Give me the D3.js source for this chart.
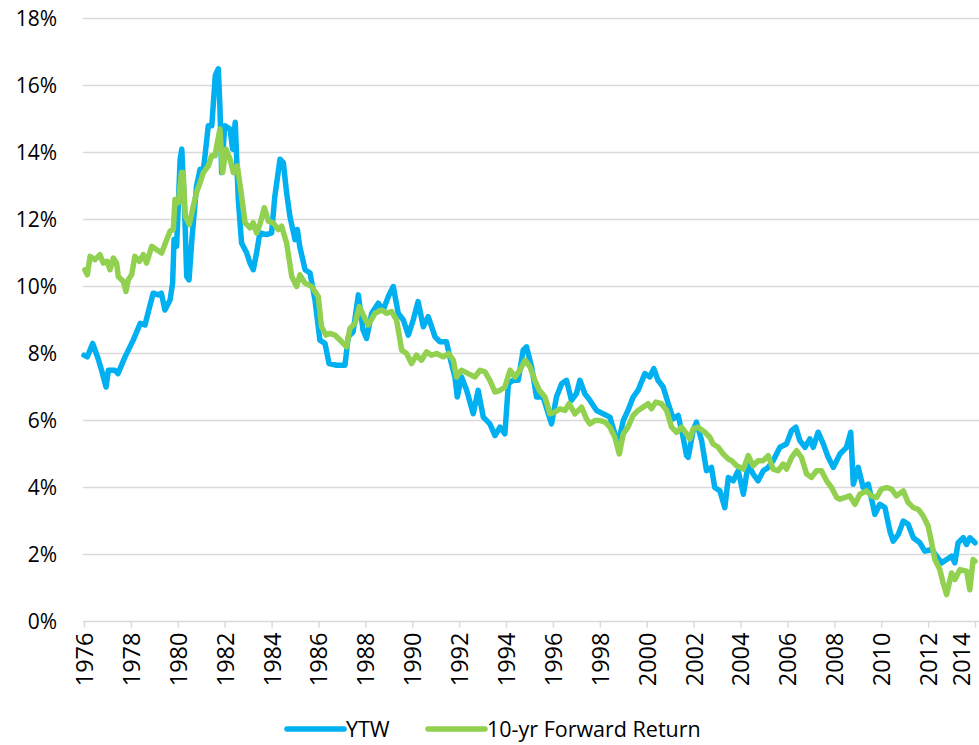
<!DOCTYPE html>
<html>
  <head>
    <meta charset="utf-8">
    <title>YTW vs 10-yr Forward Return</title>
    <style>
    body { margin: 0; background: #fff; }
    text { font-family: "Open Sans", sans-serif; fill: #000; }
    .grid line { stroke: #d9d9d9; stroke-width: 1.5; }
    .line { fill: none; stroke-width: 5.5; stroke-linejoin: round; stroke-linecap: round; }
    </style>
  </head>
  <body>
    <svg width="979" height="745"></svg>
    <script src="https://d3js.org/d3.v7.min.js"></script>
    <script>

      // decimal year, percent
      var ytwDates = [1976.0,1976.14,1976.37,1976.6,1976.75,1976.94,1977.04,1977.32,1977.45,1977.75,
        1978.1,1978.4,1978.6,1978.8,1978.95,1979.17,1979.3,1979.45,1979.67,1979.78,1979.84,1979.95,
        1980.1,1980.17,1980.3,1980.38,1980.48,1980.6,1980.8,1980.95,1981.09,1981.16,1981.3,1981.45,
        1981.6,1981.73,1981.8,1981.87,1982.0,1982.23,1982.34,1982.45,1982.58,1982.72,1982.94,1983.08,
        1983.22,1983.36,1983.5,1983.79,1984.0,1984.14,1984.36,1984.5,1984.64,1984.78,1985.0,1985.1,
        1985.2,1985.43,1985.64,1985.85,1986.06,1986.28,1986.45,1986.78,1987.13,1987.27,1987.48,1987.7,
        1987.9,1988.05,1988.27,1988.55,1988.76,1988.98,1989.19,1989.4,1989.62,1989.83,1990.04,1990.25,
        1990.47,1990.68,1990.97,1991.18,1991.46,1991.6,1991.82,1991.92,1992.1,1992.32,1992.6,1992.81,
        1993.03,1993.31,1993.53,1993.74,1993.95,1994.1,1994.3,1994.52,1994.73,1994.87,1995.09,1995.3,
        1995.58,1995.8,1995.94,1996.15,1996.37,1996.58,1996.79,1997.0,1997.15,1997.36,1997.58,1997.86,
        1998.14,1998.43,1998.64,1998.78,1999.0,1999.2,1999.42,1999.63,1999.92,2000.13,2000.3,2000.48,
        2000.7,2000.92,2001.13,2001.34,2001.55,2001.7,2001.77,2001.98,2002.12,2002.34,2002.55,2002.76,
        2002.9,2003.12,2003.33,2003.48,2003.69,2003.9,2004.12,2004.33,2004.54,2004.75,2004.97,2005.18,
        2005.39,2005.68,2005.96,2006.18,2006.36,2006.53,2006.75,2006.96,2007.1,2007.31,2007.53,2007.74,
        2007.96,2008.24,2008.52,2008.7,2008.81,2009.02,2009.23,2009.45,2009.73,2009.94,2010.16,2010.37,
        2010.51,2010.73,2010.94,2011.15,2011.37,2011.65,2011.86,2012.15,2012.36,2012.57,2012.79,2013.0,
        2013.14,2013.28,2013.5,2013.64,2013.78,2014.0];
      var ytwValues = [7.95,7.9,8.3,7.85,7.5,7.0,7.5,7.5,7.4,7.9,
        8.4,8.9,8.85,9.4,9.8,9.75,9.8,9.3,9.6,10.1,11.4,11.2,
        13.8,14.1,12.1,10.3,10.2,11.4,13.0,13.5,13.5,13.9,14.8,14.8,
        16.3,16.5,15.3,13.4,14.8,14.7,14.1,14.9,12.6,11.3,11.0,10.7,
        10.5,11.0,11.6,11.55,11.6,12.7,13.8,13.7,12.8,12.1,11.4,11.7,
        11.2,10.5,10.4,9.6,8.4,8.3,7.7,7.65,7.65,8.5,8.65,9.75,
        8.7,8.45,9.2,9.5,9.3,9.7,10.0,9.2,9.0,8.55,9.0,9.55,
        8.8,9.1,8.5,8.35,8.35,7.9,7.3,6.7,7.3,6.9,6.2,6.9,
        6.1,5.9,5.55,5.8,5.6,7.1,7.2,7.2,8.1,8.2,7.6,6.7,
        6.7,6.2,5.9,6.7,7.1,7.2,6.6,6.8,7.2,6.8,6.6,6.3,
        6.2,6.1,5.6,5.3,6.0,6.3,6.7,6.9,7.4,7.3,7.55,7.2,
        7.0,6.5,6.05,6.15,5.5,4.95,4.9,5.7,5.95,5.4,4.5,4.6,
        4.0,3.9,3.4,4.3,4.2,4.5,3.8,4.7,4.4,4.2,4.5,4.6,
        4.8,5.2,5.3,5.7,5.8,5.4,5.2,5.45,5.2,5.65,5.3,4.9,
        4.6,5.0,5.2,5.65,4.1,4.6,4.0,4.1,3.2,3.5,3.4,2.7,
        2.4,2.6,3.0,2.9,2.5,2.35,2.1,2.15,1.95,1.75,1.85,1.95,
        1.75,2.35,2.5,2.3,2.5,2.35];

      var fwdDates = [1976.04,1976.14,1976.26,1976.47,1976.68,1976.82,1976.99,1977.11,1977.25,1977.39,
        1977.46,1977.68,1977.79,1977.89,1978.03,1978.17,1978.36,1978.53,1978.67,1978.89,1979.1,1979.31,
        1979.53,1979.67,1979.81,1979.88,1980.02,1980.16,1980.23,1980.32,1980.49,1980.66,1980.8,1980.95,
        1981.09,1981.3,1981.44,1981.59,1981.66,1981.8,1981.91,1982.06,1982.23,1982.37,1982.54,1982.72,
        1982.87,1983.08,1983.22,1983.36,1983.5,1983.69,1983.86,1984.07,1984.29,1984.43,1984.64,1984.86,
        1985.07,1985.21,1985.42,1985.71,1985.99,1986.13,1986.32,1986.49,1986.7,1986.99,1987.2,1987.34,
        1987.56,1987.74,1987.91,1988.12,1988.41,1988.7,1988.9,1989.12,1989.33,1989.55,1989.76,1989.97,
        1990.18,1990.4,1990.61,1990.82,1991.04,1991.32,1991.54,1991.75,1991.89,1992.1,1992.39,1992.67,
        1992.89,1993.1,1993.31,1993.53,1993.74,1993.95,1994.17,1994.38,1994.59,1994.81,1995.02,1995.23,
        1995.42,1995.66,1995.87,1996.08,1996.3,1996.51,1996.69,1996.94,1997.22,1997.43,1997.58,1997.79,
        1998.0,1998.22,1998.43,1998.64,1998.83,1999.0,1999.2,1999.42,1999.63,1999.85,2000.06,2000.2,
        2000.39,2000.63,2000.85,2001.06,2001.27,2001.49,2001.7,2001.84,2001.98,2002.19,2002.48,2002.69,
        2002.83,2003.05,2003.26,2003.48,2003.62,2003.83,2004.12,2004.33,2004.54,2004.75,2004.97,2005.18,
        2005.39,2005.6,2005.82,2005.96,2006.18,2006.39,2006.6,2006.82,2007.03,2007.24,2007.45,2007.67,
        2007.88,2008.1,2008.24,2008.66,2008.88,2009.09,2009.37,2009.58,2009.8,2010.01,2010.23,2010.44,
        2010.65,2010.94,2011.15,2011.37,2011.58,2011.79,2012.0,2012.15,2012.29,2012.5,2012.64,2012.79,
        2013.0,2013.14,2013.36,2013.64,2013.78,2013.92,2014.0];
      var fwdValues = [10.5,10.35,10.9,10.8,10.95,10.7,10.75,10.5,10.85,10.7,
        10.3,10.15,9.85,10.2,10.35,10.9,10.75,10.95,10.7,11.2,11.1,11.0,
        11.4,11.65,11.7,12.6,12.5,13.4,13.4,12.1,11.85,12.4,12.8,13.1,
        13.4,13.6,13.9,13.9,14.2,14.7,13.4,14.1,13.8,13.4,13.6,12.7,
        11.9,11.75,11.9,11.6,11.85,12.35,11.95,11.9,11.7,11.8,11.3,10.3,
        10.0,10.35,10.1,10.0,9.7,8.8,8.55,8.6,8.55,8.35,8.2,8.75,
        8.9,9.4,9.15,8.85,9.2,9.3,9.2,9.25,9.0,8.1,8.0,7.7,
        7.95,7.8,8.05,7.95,8.0,7.9,8.0,7.8,7.3,7.5,7.4,7.3,
        7.5,7.45,7.2,6.85,6.9,7.0,7.5,7.3,7.5,7.8,7.6,7.2,
        6.9,6.7,6.2,6.25,6.35,6.3,6.5,6.2,6.4,6.05,5.9,6.0,
        6.0,5.95,5.8,5.5,5.0,5.6,5.8,6.15,6.3,6.4,6.5,6.35,
        6.55,6.5,6.3,5.8,5.65,5.8,5.6,5.45,5.75,5.8,5.65,5.5,
        5.3,5.2,5.0,4.85,4.8,4.65,4.55,4.95,4.65,4.8,4.8,4.95,
        4.55,4.5,4.7,4.55,4.9,5.1,4.9,4.4,4.3,4.5,4.5,4.2,
        4.0,3.7,3.65,3.75,3.5,3.8,3.9,3.75,3.7,3.95,4.0,3.95,
        3.75,3.9,3.55,3.4,3.35,3.15,2.85,2.35,1.85,1.55,1.15,0.8,
        1.45,1.25,1.55,1.5,0.95,1.85,1.8];

      var yearTicks = d3.range(1976, 2015, 2);
      var pctTicks = d3.range(0, 19, 2);

      var svg = d3.select("svg"),
          margin = {top: 18.5, right: 4, bottom: 123.5, left: 84},
          width = 975 - margin.left,
          height = 621.5 - margin.top;

      var x = d3.scaleLinear().domain([1976, 2014]).range([0, width]),
          y = d3.scaleLinear().domain([0, 18]).range([height, 0]);

      var g = svg.append("g")
          .attr("transform", "translate(" + margin.left + "," + margin.top + ")");

      // horizontal gridlines
      g.append("g")
          .attr("class", "grid")
          .selectAll("line")
          .data(pctTicks)
          .enter().append("line")
            .attr("x1", -1)
            .attr("x2", 979 - margin.left)
            .attr("y1", function(d) { return y(d); })
            .attr("y2", function(d) { return y(d); });

      // y labels
      var yAxis = g.append("g")
          .call(d3.axisLeft(y).tickValues(pctTicks).tickSize(0).tickPadding(27)
            .tickFormat(function(d) { return d + "%"; }));
      yAxis.select(".domain").remove();
      yAxis.selectAll("text")
          .style("font-size", "21px")
          .style("font-family", "'Open Sans', sans-serif");

      // x axis ticks + rotated year labels
      var xAxis = g.append("g")
          .attr("transform", "translate(0," + height + ")")
          .call(d3.axisBottom(x).tickValues(yearTicks).tickSize(6).tickFormat(d3.format("d")));
      xAxis.select(".domain").remove();
      xAxis.selectAll(".tick line").attr("stroke", "#d9d9d9").attr("stroke-width", 1.5);
      xAxis.selectAll("text")
          .style("font-size", "23.5px")
          .style("font-family", "'Open Sans', sans-serif")
          .attr("text-anchor", "end")
          .attr("transform", "rotate(-90)")
          .attr("x", -11)
          .attr("y", function(d) { return d === 2014 ? -14 : 0; }) // keep last label inside the frame
          .attr("dy", "0.36em");

      var line = d3.line()
          .x(function(d) { return x(d[0]); })
          .y(function(d) { return y(d[1]); });

      var series = [
        {name: "YTW", color: "#00b0f0", data: d3.zip(ytwDates, ytwValues)},
        {name: "10-yr Forward Return", color: "#92d050", data: d3.zip(fwdDates, fwdValues)}
      ];

      g.selectAll(".line")
        .data(series)
        .enter().append("path")
          .attr("class", "line")
          .attr("stroke", function(d) { return d.color; })
          .attr("d", function(d) { return line(d.data); });

      // legend
      var legendX = [287, 428];
      var legend = svg.append("g").attr("transform", "translate(0,729)");
      var item = legend.selectAll("g")
        .data(series)
        .enter().append("g")
          .attr("transform", function(d, i) { return "translate(" + legendX[i] + ",0)"; });
      item.append("line")
          .attr("x1", 0).attr("x2", 57)
          .attr("stroke", function(d) { return d.color; })
          .attr("stroke-width", 5.5)
          .attr("stroke-linecap", "round");
      item.append("text")
          .attr("x", 59)
          .attr("dy", "0.35em")
          .style("font-size", "21.5px")
          .text(function(d) { return d.name; });

  </script>
  </body>
</html>
